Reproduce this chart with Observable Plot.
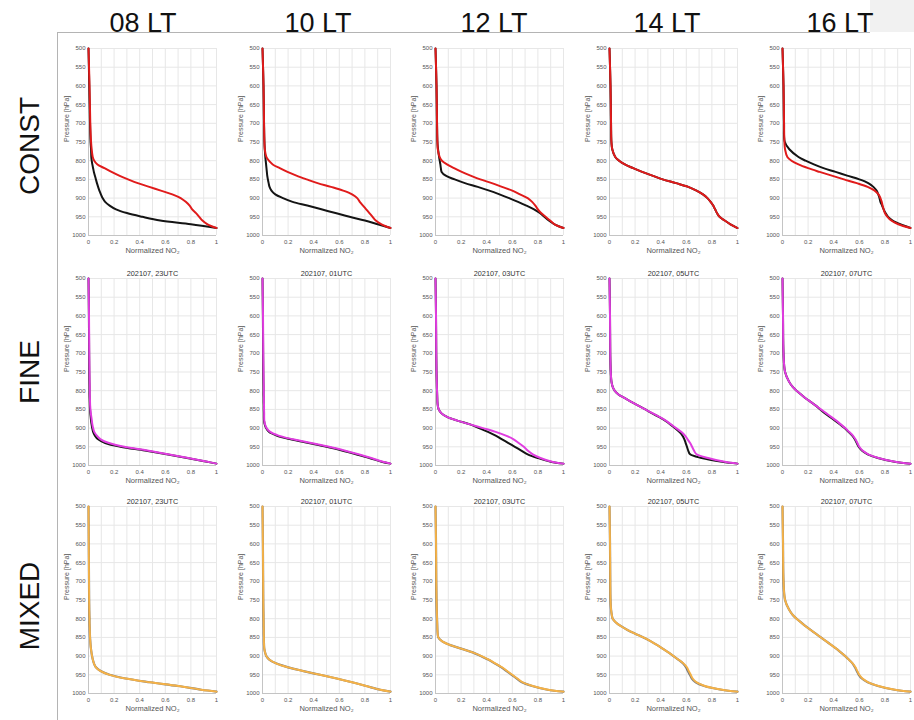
<!DOCTYPE html>
<html>
<head>
<meta charset="utf-8">
<script src="https://cdn.jsdelivr.net/npm/d3@7"></script>
<script src="https://cdn.jsdelivr.net/npm/@observablehq/plot@0.6"></script>
<style>
  body { margin: 0; background: #fff; font-family: "Liberation Sans", Arial, sans-serif; }
  #wrap { position: relative; width: 914px; height: 720px; overflow: hidden; background: #fff; }
  .hdr { position: absolute; top: 10px; width: 120px; margin-left: -60px; text-align: center; font-size: 27px; line-height: 27px; color: #111; }
  .rowlab { position: absolute; left: 30px; font-size: 28px; line-height: 28px; color: #111; transform: translate(-50%, -50%) rotate(-90deg); white-space: nowrap; }
  .panel { position: absolute; width: 173px; height: 241px; }
  .panel svg { max-width: none !important; }
</style>
</head>
<body>
<div id="wrap"></div>
<script>
// ---------- labels ----------
const columns = ["08 LT", "10 LT", "12 LT", "14 LT", "16 LT"];
const rowLabels = ["CONST", "FINE", "MIXED"];
const utcTitles = ["202107, 23UTC", "202107, 01UTC", "202107, 03UTC", "202107, 05UTC", "202107, 07UTC"];
const xTicks = [0, 0.2, 0.4, 0.6, 0.8, 1];
const xGrid = [0, 0.1, 0.2, 0.3, 0.4, 0.5, 0.6, 0.7, 0.8, 0.9, 1];
const yTicks = [500, 550, 600, 650, 700, 750, 800, 850, 900, 950, 1000];
const yLabel = "Pressure [hPa]";
const xLabel = "Normalized NO₂";

// ---------- pressure levels ----------
const pTop = [500,600,700,750,770,790,800,810,820,830,840,850,860,870,880,890,900,910,920,930,940,950,960,970,980];
const pLow = [500,600,700,750,775,790,800,810,820,830,840,850,860,870,880,890,900,910,920,930,940,950,960,970,980,990,995];

// ---------- CONST (black = reference, red = CONST) ----------
const c08Black = [0,.006,.012,.016,.02,.022,.025,.03,.036,.042,.05,.058,.066,.075,.085,.097,.11,.13,.165,.215,.3,.42,.56,.8,1];
const c08Red   = [0,.008,.014,.02,.025,.033,.045,.07,.125,.18,.24,.31,.385,.475,.565,.655,.72,.76,.79,.81,.84,.865,.89,.93,1];
const c10Black = [0,.008,.012,.015,.018,.022,.025,.028,.031,.034,.037,.042,.048,.055,.07,.1,.16,.235,.35,.46,.57,.68,.8,.9,1];
const c10Red   = [0,.008,.012,.015,.018,.03,.05,.08,.135,.195,.265,.345,.43,.535,.63,.7,.74,.76,.785,.81,.835,.86,.885,.93,1];
const c12Black = [0,.008,.012,.015,.02,.028,.033,.038,.042,.048,.08,.15,.23,.33,.42,.5,.575,.645,.71,.77,.815,.85,.885,.93,1];
const c12Red   = [0,.008,.012,.015,.018,.032,.05,.09,.145,.205,.275,.35,.44,.52,.6,.66,.72,.755,.78,.8,.825,.86,.895,.93,1];
const c14Black = [0,.008,.012,.015,.022,.045,.075,.12,.185,.255,.335,.415,.52,.615,.68,.73,.765,.79,.81,.825,.84,.86,.9,.945,1];
const c14Red   = [0,.008,.012,.015,.022,.045,.075,.12,.185,.255,.335,.415,.52,.615,.68,.73,.765,.79,.81,.825,.84,.86,.9,.945,1];
const c16Black = [0,.008,.012,.018,.055,.125,.18,.245,.32,.415,.505,.6,.67,.71,.735,.748,.758,.765,.778,.79,.805,.825,.86,.92,1];
const c16Red   = [0,.008,.012,.015,.02,.038,.07,.125,.2,.29,.385,.48,.58,.665,.72,.75,.765,.775,.782,.79,.8,.82,.85,.905,1];

// ---------- FINE (black = reference, magenta = FINE) ----------
const f08Black = [0,.003,.005,.006,.007,.008,.008,.008,.009,.01,.011,.012,.014,.017,.02,.024,.029,.036,.05,.075,.13,.25,.44,.61,.77,.925,1];
const f08Mag   = [0,.004,.006,.008,.009,.01,.01,.01,.011,.012,.013,.015,.018,.022,.026,.03,.036,.045,.065,.095,.16,.28,.46,.62,.78,.93,1];
const f10Black = [0,.003,.005,.006,.007,.008,.008,.008,.009,.009,.01,.01,.011,.011,.012,.017,.028,.05,.11,.22,.36,.5,.62,.73,.835,.93,1];
const f10Mag   = [0,.004,.006,.008,.009,.01,.01,.01,.011,.011,.012,.012,.013,.013,.014,.02,.032,.06,.125,.24,.38,.52,.64,.75,.85,.94,1];
const f12Black = [0,.004,.006,.008,.01,.011,.012,.013,.014,.015,.018,.025,.045,.09,.17,.27,.34,.41,.47,.52,.57,.62,.67,.72,.8,.9,1];
const f12Mag   = [0,.004,.006,.008,.01,.011,.012,.013,.014,.015,.018,.025,.045,.09,.17,.27,.37,.47,.55,.61,.65,.69,.72,.76,.82,.91,1];
const f14Black = [0,.004,.006,.01,.015,.025,.04,.07,.12,.17,.225,.28,.33,.385,.435,.475,.51,.545,.57,.585,.595,.605,.615,.63,.72,.88,1];
const f14Mag   = [0,.004,.006,.01,.015,.025,.04,.07,.12,.17,.225,.28,.335,.39,.44,.48,.52,.56,.59,.61,.63,.645,.66,.68,.77,.9,1];
const f16Black = [0,.004,.008,.02,.05,.08,.11,.145,.18,.22,.26,.295,.33,.37,.41,.45,.485,.515,.545,.565,.58,.595,.62,.665,.745,.875,1];
const f16Mag   = [0,.004,.008,.02,.05,.08,.11,.145,.18,.22,.26,.3,.34,.38,.42,.455,.49,.52,.55,.57,.585,.6,.625,.67,.75,.88,1];

// ---------- MIXED (black = reference, orange = MIXED) ----------
const m08Black = [0,.002,.004,.005,.006,.007,.008,.008,.009,.01,.011,.012,.014,.016,.019,.023,.028,.034,.043,.058,.095,.165,.29,.48,.7,.88,1];
const m08Orange= [0,.002,.004,.005,.006,.007,.008,.008,.009,.01,.011,.012,.014,.016,.019,.023,.028,.034,.043,.058,.095,.165,.29,.48,.7,.88,1];
const m10Black = [0,.003,.005,.006,.007,.008,.008,.009,.009,.01,.01,.011,.011,.012,.014,.02,.03,.055,.11,.2,.32,.45,.58,.7,.81,.92,1];
const m10Orange= [0,.003,.005,.006,.007,.008,.008,.009,.009,.01,.01,.011,.011,.012,.014,.02,.03,.055,.11,.2,.32,.45,.58,.7,.81,.92,1];
const m12Black = [0,.004,.006,.008,.01,.011,.012,.013,.014,.015,.017,.022,.05,.11,.2,.29,.355,.415,.465,.515,.555,.595,.635,.675,.755,.875,1];
const m12Orange= [0,.004,.006,.008,.01,.011,.012,.013,.014,.015,.017,.022,.05,.11,.2,.29,.36,.42,.47,.52,.56,.6,.64,.68,.76,.88,1];
const m14Black = [0,.004,.006,.008,.012,.018,.025,.05,.09,.14,.2,.265,.32,.37,.415,.46,.5,.54,.575,.598,.612,.628,.643,.673,.74,.875,1];
const m14Orange= [0,.004,.006,.008,.012,.018,.025,.05,.09,.14,.2,.265,.32,.37,.415,.46,.5,.54,.58,.605,.62,.635,.65,.68,.745,.88,1];
const m16Black = [0,.004,.008,.02,.05,.08,.11,.145,.18,.22,.26,.3,.34,.38,.42,.455,.49,.52,.548,.566,.58,.596,.62,.665,.745,.875,1];
const m16Orange= [0,.004,.008,.02,.05,.08,.11,.145,.18,.22,.26,.3,.34,.38,.42,.455,.49,.52,.55,.57,.585,.6,.625,.67,.75,.88,1];

// ---------- assemble ----------
const rowsCfg = [
  { p: pTop, color: "#e01b1b", colorWidth: 2, blackWidth: 2, blackOpacity: 1,
    black: [c08Black, c10Black, c12Black, c14Black, c16Black],
    model: [c08Red, c10Red, c12Red, c14Red, c16Red], titles: null },
  { p: pLow, color: "#e03de0", colorWidth: 2, blackWidth: 2, blackOpacity: 1,
    black: [f08Black, f10Black, f12Black, f14Black, f16Black],
    model: [f08Mag, f10Mag, f12Mag, f14Mag, f16Mag], titles: utcTitles },
  { p: pLow, color: "#f5b247", colorWidth: 1.9, blackWidth: 2.2, blackOpacity: 0.55,
    black: [m08Black, m10Black, m12Black, m14Black, m16Black],
    model: [m08Orange, m10Orange, m12Orange, m14Orange, m16Orange], titles: utcTitles }
];

const wrap = document.getElementById("wrap");
const FONT = "Liberation Sans, Arial, sans-serif";

function box(l, t, w, h, bg) {
  const d = document.createElement("div");
  d.style.cssText = `position:absolute;left:${l}px;top:${t}px;width:${w}px;height:${h}px;background:${bg}`;
  wrap.appendChild(d);
}
box(870, 0, 44, 32, "#f1f1f1");
box(57, 32, 813, 1, "#b4b4b4");
box(57, 32, 1, 688, "#b4b4b4");

const hdrX = [143, 318, 494, 667, 840];
columns.forEach((c, i) => {
  const d = document.createElement("div");
  d.className = "hdr";
  d.style.left = hdrX[i] + "px";
  d.textContent = c;
  wrap.appendChild(d);
});
const rowY = [146, 372, 606];
rowLabels.forEach((r, i) => {
  const d = document.createElement("div");
  d.className = "rowlab";
  d.style.top = rowY[i] + "px";
  d.textContent = r;
  wrap.appendChild(d);
});

const colLeft = [88, 261.5, 435, 608.5, 782];
const rowTop = [48, 278, 506];
const ML = 33, MR = 12, MT = 26, MB = 28, PW = 128, PH = 187;

function panel(p, bx, mx, color, cw, bw, bo, title) {
  const toData = xs => xs.map((v, i) => ({ p: p[i], v }));
  const marks = [
    Plot.gridX({ ticks: xGrid, stroke: "#e7e7e7", strokeOpacity: 1 }),
    Plot.gridY({ ticks: yTicks, stroke: "#e7e7e7", strokeOpacity: 1 }),
    Plot.ruleX([0], { stroke: "#c4c4c4" }),
    Plot.ruleY([1000], { stroke: "#c4c4c4" }),
    Plot.axisX({ ticks: xTicks, tickSize: 0, tickPadding: 4, fontSize: 6, fill: "#555", label: null, tickFormat: d => String(d) }),
    Plot.axisY({ ticks: yTicks, tickSize: 0, tickPadding: 3, fontSize: 6, fill: "#555", label: null, tickFormat: d => String(d) }),
    Plot.line(toData(bx), { x: "v", y: "p", stroke: "#141414", strokeWidth: bw, strokeOpacity: bo, curve: "catmull-rom" }),
    Plot.line(toData(mx), { x: "v", y: "p", stroke: color, strokeWidth: cw, curve: "catmull-rom" }),
    Plot.text([yLabel], { text: d => d, frameAnchor: "left", dx: -22, rotate: -90, fontSize: 7, fill: "#555" }),
    Plot.text([xLabel], { text: d => d, frameAnchor: "bottom", dy: 17, fontSize: 7.5, fill: "#555" })
  ];
  if (title) marks.push(Plot.text([title], { text: d => d, frameAnchor: "top", dy: -8, fontSize: 7.3, fill: "#333" }));
  return Plot.plot({
    width: ML + PW + MR, height: MT + PH + MB,
    marginLeft: ML, marginRight: MR, marginTop: MT, marginBottom: MB,
    style: { background: "transparent", overflow: "visible", fontFamily: FONT, fontSize: "6px", maxWidth: "none" },
    x: { domain: [0, 1] },
    y: { domain: [500, 1000], reverse: true },
    marks
  });
}

rowsCfg.forEach((row, r) => {
  for (let c = 0; c < 5; c++) {
    const svg = panel(row.p, row.black[c], row.model[c], row.color, row.colorWidth, row.blackWidth, row.blackOpacity, row.titles ? row.titles[c] : null);
    const holder = document.createElement("div");
    holder.className = "panel";
    holder.style.left = (colLeft[c] - ML) + "px";
    holder.style.top = (rowTop[r] - MT) + "px";
    holder.appendChild(svg);
    wrap.appendChild(holder);
  }
});
</script>
</body>
</html>
